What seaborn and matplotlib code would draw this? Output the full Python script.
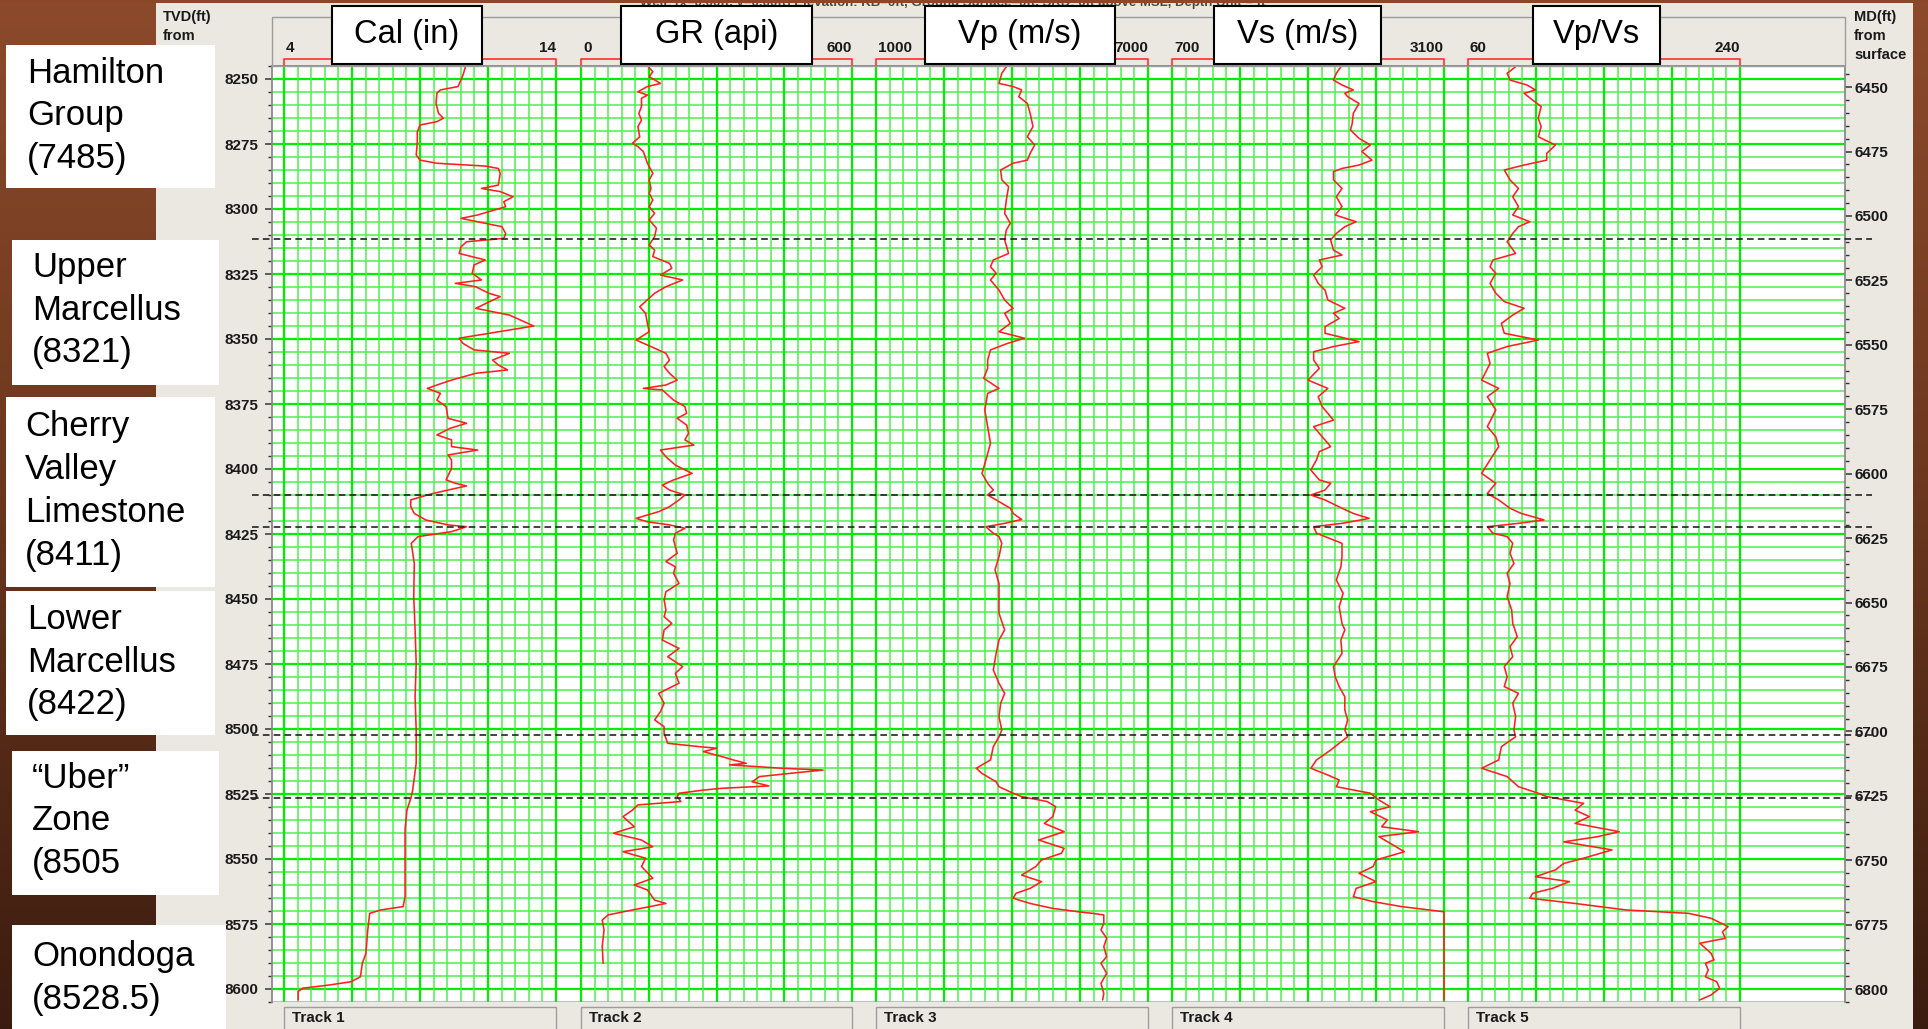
import numpy as np
import pandas as pd
import matplotlib
matplotlib.use("Agg")
import matplotlib.pyplot as plt
import matplotlib.transforms as mtransforms
from matplotlib.patches import Rectangle
from matplotlib.lines import Line2D
from matplotlib.ticker import FixedLocator
import seaborn as sns

sns.set_style("white")
plt.rcParams["font.family"] = ["Liberation Sans", "DejaVu Sans"]

# ---------------------------------------------------------------- data
TVD_TOP, TVD_BASE = 8245, 8605      # displayed TVD window (ft)
MD_SHIFT = 1803.2                   # TVD - MD

cal_log = [
    (8245.3, 10.67), (8248.5, 10.58), (8252.9, 10.40), (8254.2, 9.75), (8255.5, 9.62),
    (8259.4, 9.59), (8263.2, 9.68), (8265.1, 9.86), (8266.4, 9.62), (8267.7, 9.00),
    (8270.3, 8.90), (8274.7, 8.90), (8279.2, 8.86), (8281.2, 9.00), (8282.4, 9.62),
    (8283.5, 11.40), (8284.4, 11.88), (8286.3, 11.95), (8290.8, 11.88), (8292.1, 11.26),
    (8293.3, 11.95), (8295.3, 12.42), (8297.2, 12.08), (8299.1, 12.15), (8302.3, 11.12),
    (8303.6, 10.51), (8304.9, 11.12), (8306.8, 12.01), (8309.4, 12.15), (8311.3, 12.08),
    (8312.6, 10.71), (8314.5, 10.51), (8317.1, 10.44), (8319.6, 11.40), (8321.5, 10.99),
    (8324.7, 10.92), (8327.3, 11.26), (8328.6, 10.30), (8329.9, 11.05), (8332.4, 11.53),
    (8333.7, 11.95), (8338.2, 11.05), (8340.8, 12.29), (8345.0, 13.18), (8349.7, 10.44),
    (8351.7, 10.58), (8354.2, 10.99), (8355.5, 12.29), (8358.1, 11.67), (8360.0, 11.88),
    (8361.9, 12.22), (8363.2, 11.05), (8365.8, 10.16), (8367.7, 9.62), (8369.0, 9.27),
    (8370.9, 9.75), (8373.5, 9.62), (8376.0, 9.96), (8380.5, 10.03), (8382.4, 10.71),
    (8384.4, 10.10), (8386.9, 9.62), (8388.8, 10.16), (8391.4, 10.16), (8392.7, 11.12),
    (8394.6, 10.03), (8396.5, 10.16), (8399.7, 10.16), (8404.2, 9.96), (8405.5, 10.30),
    (8406.5, 10.71), (8408.1, 10.03), (8409.4, 9.48), (8410.6, 9.07), (8411.9, 8.66),
    (8414.5, 8.66), (8417.1, 8.79), (8419.6, 9.21), (8421.5, 10.03), (8422.2, 10.71),
    (8424.1, 10.16), (8426.0, 8.93), (8428.6, 8.68), (8436.3, 8.79), (8449.1, 8.77),
    (8461.9, 8.82), (8474.7, 8.86), (8487.6, 8.82), (8500.4, 8.86), (8513.2, 8.86),
    (8523.5, 8.73), (8526.0, 8.68), (8531.2, 8.52), (8538.8, 8.45), (8551.7, 8.45),
    (8564.5, 8.45), (8568.3, 8.38), (8569.6, 7.56), (8570.9, 7.15), (8577.3, 7.08),
    (8586.3, 7.01), (8590.1, 6.88), (8595.3, 6.81), (8597.2, 6.47), (8598.5, 5.64),
    (8599.7, 4.68), (8601.0, 4.52), (8604.2, 4.52),
]

gr_log = [
    (8245.3, 149), (8247.2, 159), (8249.1, 151), (8251.7, 176), (8252.9, 147),
    (8254.9, 126), (8256.2, 147), (8257.4, 134), (8260.6, 134), (8263.2, 128),
    (8265.8, 134), (8268.3, 126), (8272.2, 130), (8274.7, 114), (8276.0, 126),
    (8277.9, 138), (8282.4, 147), (8286.3, 159), (8288.8, 151), (8292.1, 155),
    (8294.0, 151), (8296.5, 159), (8299.1, 151), (8301.7, 163), (8304.2, 151),
    (8307.4, 167), (8310.6, 163), (8313.8, 151), (8315.8, 163), (8318.3, 159),
    (8320.9, 196), (8322.8, 201), (8325.4, 176), (8327.3, 225), (8329.9, 188),
    (8332.4, 163), (8337.6, 130), (8340.1, 143), (8344.0, 147), (8347.2, 151),
    (8350.4, 122), (8352.3, 147), (8355.5, 188), (8358.1, 196), (8360.6, 184),
    (8363.2, 196), (8365.8, 213), (8367.7, 188), (8369.0, 138), (8369.6, 180),
    (8373.5, 205), (8376.0, 230), (8378.6, 234), (8380.5, 213), (8383.1, 234),
    (8386.3, 238), (8388.8, 230), (8390.8, 250), (8392.7, 176), (8395.3, 188),
    (8398.5, 209), (8401.7, 246), (8404.2, 205), (8406.2, 180), (8408.1, 196),
    (8410.0, 230), (8411.9, 217), (8414.5, 196), (8416.4, 172), (8419.0, 122),
    (8420.3, 147), (8421.5, 196), (8422.8, 230), (8424.7, 209), (8427.3, 205),
    (8432.4, 213), (8435.6, 188), (8437.6, 209), (8440.1, 205), (8444.0, 217),
    (8447.2, 188), (8450.4, 184), (8454.2, 188), (8456.8, 184), (8459.4, 201),
    (8461.9, 184), (8465.8, 180), (8469.0, 217), (8472.2, 192), (8476.0, 225),
    (8478.6, 209), (8482.4, 217), (8486.3, 172), (8490.1, 184), (8493.3, 176),
    (8496.5, 163), (8499.1, 184), (8501.7, 184), (8505.5, 192), (8506.8, 263),
    (8507.4, 300), (8508.7, 271), (8510.6, 312), (8511.9, 337), (8513.2, 366),
    (8513.8, 329), (8515.1, 445), (8515.8, 536), (8516.8, 478), (8518.3, 395),
    (8520.3, 379), (8521.9, 416), (8522.8, 312), (8523.5, 271), (8524.7, 217),
    (8526.0, 213), (8527.9, 221), (8529.2, 126), (8531.2, 114), (8533.7, 93),
    (8537.6, 118), (8540.1, 72), (8542.7, 134), (8545.3, 159), (8547.2, 93),
    (8549.7, 143), (8552.9, 134), (8557.4, 159), (8560.0, 118), (8561.9, 147),
    (8565.8, 163), (8567.1, 188), (8569.6, 114), (8571.5, 60), (8573.5, 47),
    (8577.3, 51), (8583.7, 47), (8590.1, 49),
]

vp_log = [
    (8245.3, 3875), (8247.8, 3775), (8251.7, 3713), (8252.9, 4025), (8254.2, 4213),
    (8256.8, 4150), (8259.4, 4338), (8263.2, 4400), (8268.3, 4463), (8272.2, 4338),
    (8275.4, 4500), (8278.6, 4400), (8281.2, 4338), (8282.4, 4025), (8285.0, 3750),
    (8288.8, 3775), (8291.4, 3925), (8296.5, 3875), (8301.7, 3838), (8305.5, 3963),
    (8308.1, 3875), (8311.9, 3838), (8317.1, 3925), (8319.6, 3588), (8322.2, 3525),
    (8324.7, 3650), (8327.3, 3525), (8331.2, 3713), (8335.0, 3838), (8338.2, 4025),
    (8340.1, 3838), (8344.0, 3963), (8347.2, 3713), (8349.7, 4275), (8351.7, 3900),
    (8354.2, 3525), (8358.1, 3463), (8361.3, 3463), (8365.1, 3375), (8369.0, 3713),
    (8370.9, 3463), (8377.3, 3400), (8383.7, 3463), (8390.1, 3525), (8396.5, 3425),
    (8401.7, 3338), (8405.5, 3463), (8408.1, 3588), (8410.0, 3463), (8411.9, 3650),
    (8415.1, 3963), (8417.1, 4025), (8419.4, 4213), (8420.9, 3838), (8422.2, 3425),
    (8424.7, 3588), (8426.0, 3713), (8428.6, 3775), (8433.7, 3713), (8438.8, 3625),
    (8444.0, 3713), (8449.1, 3713), (8455.5, 3713), (8461.9, 3838), (8465.8, 3713),
    (8470.9, 3650), (8477.3, 3588), (8482.4, 3713), (8486.3, 3838), (8490.1, 3750),
    (8495.3, 3713), (8500.4, 3775), (8503.0, 3713), (8506.8, 3588), (8511.9, 3525),
    (8515.1, 3213), (8517.1, 3338), (8520.3, 3650), (8522.2, 3713), (8524.7, 4025),
    (8526.0, 4213), (8527.9, 4775), (8529.9, 4963), (8533.7, 4900), (8536.3, 4713),
    (8539.5, 5150), (8542.7, 4588), (8545.9, 5150), (8547.8, 5088), (8550.4, 4650),
    (8552.9, 4525), (8556.2, 4213), (8558.7, 4650), (8561.3, 4400), (8563.2, 4088),
    (8565.1, 4025), (8567.1, 4400), (8569.0, 4900), (8570.3, 5463), (8570.9, 5775),
    (8571.5, 6025), (8574.7, 6025), (8577.3, 5963), (8580.5, 6088), (8583.7, 6025),
    (8587.6, 6088), (8590.1, 5963), (8594.0, 6088), (8597.8, 5963), (8601.7, 6025),
    (8604.2, 6000),
]

vs_log = [
    (8245.3, 2190), (8247.8, 2150), (8250.4, 2125), (8252.3, 2200), (8254.2, 2300),
    (8255.5, 2225), (8256.8, 2250), (8259.4, 2350), (8263.2, 2300), (8267.1, 2290),
    (8269.6, 2275), (8272.8, 2350), (8275.4, 2450), (8277.9, 2375), (8281.2, 2465),
    (8283.1, 2350), (8284.4, 2200), (8285.6, 2125), (8288.8, 2125), (8292.1, 2200),
    (8295.3, 2150), (8299.1, 2200), (8302.3, 2140), (8304.9, 2325), (8306.8, 2225),
    (8309.4, 2150), (8311.9, 2100), (8315.8, 2125), (8317.7, 2200), (8319.6, 2000),
    (8322.2, 2025), (8325.4, 1950), (8328.6, 1990), (8331.2, 2050), (8335.0, 2075),
    (8338.2, 2225), (8340.1, 2125), (8342.1, 2175), (8345.3, 2050), (8347.8, 2050),
    (8351.0, 2350), (8352.9, 2125), (8354.9, 1950), (8358.1, 1950), (8361.3, 2000),
    (8365.8, 1900), (8369.0, 2075), (8372.2, 1990), (8376.0, 2025), (8381.2, 2125),
    (8383.7, 1950), (8387.6, 2025), (8391.4, 2100), (8393.3, 2000), (8396.5, 1975),
    (8400.4, 1925), (8404.2, 2000), (8405.5, 2100), (8408.1, 2050), (8410.0, 1925),
    (8411.9, 2050), (8415.1, 2200), (8417.1, 2300), (8419.0, 2440), (8420.9, 2200),
    (8422.2, 1950), (8424.7, 1975), (8426.0, 2050), (8428.6, 2200), (8433.7, 2200),
    (8437.6, 2190), (8442.7, 2150), (8447.8, 2210), (8453.0, 2175), (8459.4, 2200),
    (8461.9, 2225), (8465.8, 2190), (8470.9, 2200), (8476.0, 2125), (8479.9, 2140),
    (8483.7, 2175), (8487.6, 2225), (8492.7, 2225), (8496.5, 2250), (8500.4, 2225),
    (8503.0, 2250), (8505.5, 2175), (8508.1, 2100), (8511.9, 1975), (8515.1, 1925),
    (8517.7, 2075), (8519.6, 2175), (8522.2, 2150), (8524.7, 2450), (8527.3, 2525),
    (8529.9, 2625), (8531.8, 2450), (8535.0, 2600), (8537.6, 2550), (8539.5, 2875),
    (8541.4, 2525), (8544.6, 2650), (8547.2, 2750), (8550.4, 2500), (8552.9, 2475),
    (8555.5, 2350), (8558.7, 2500), (8561.3, 2325), (8564.5, 2300), (8566.4, 2475),
    (8568.3, 2725), (8570.3, 3100), (8604.2, 3100),
]

vpvs_log = [
    (8245.3, 91.5), (8247.8, 85.9), (8250.4, 87.8), (8252.3, 99.0), (8254.2, 104.6),
    (8255.5, 97.1), (8258.1, 102.8), (8260.6, 108.4), (8265.1, 106.5), (8268.3, 108.4),
    (8272.2, 106.5), (8275.4, 117.8), (8278.6, 112.1), (8281.2, 112.1), (8283.1, 97.1),
    (8285.0, 84.0), (8288.8, 87.8), (8292.1, 93.4), (8295.3, 89.6), (8299.1, 93.4),
    (8302.3, 89.6), (8304.9, 100.9), (8306.8, 93.4), (8309.4, 89.6), (8312.6, 85.9),
    (8317.1, 91.5), (8319.6, 76.5), (8322.2, 74.6), (8324.7, 78.4), (8328.6, 74.6),
    (8332.4, 78.4), (8335.6, 84.0), (8338.2, 97.1), (8340.8, 89.6), (8344.0, 82.1),
    (8347.8, 84.0), (8350.4, 106.5), (8352.9, 85.9), (8355.5, 72.8), (8359.4, 74.6),
    (8365.8, 69.0), (8369.0, 80.3), (8372.2, 72.8), (8377.3, 78.4), (8383.7, 72.8),
    (8387.6, 78.4), (8391.4, 80.3), (8396.5, 74.6), (8401.7, 69.0), (8405.5, 78.4),
    (8409.4, 72.8), (8411.9, 80.3), (8415.1, 87.8), (8417.1, 95.3), (8419.6, 110.3),
    (8420.9, 93.4), (8422.2, 72.8), (8424.7, 76.5), (8426.0, 85.9), (8428.6, 89.6),
    (8432.4, 87.8), (8436.3, 90.4), (8440.1, 85.9), (8444.0, 87.8), (8449.1, 85.9),
    (8454.2, 88.9), (8459.4, 89.6), (8464.5, 92.6), (8468.3, 87.8), (8472.2, 89.6),
    (8476.0, 84.0), (8479.9, 85.9), (8483.7, 84.0), (8486.3, 93.4), (8490.1, 89.6),
    (8495.3, 91.5), (8500.4, 90.4), (8503.0, 91.5), (8506.8, 82.1), (8511.9, 80.3),
    (8515.1, 69.0), (8518.3, 85.9), (8522.2, 93.4), (8524.7, 106.5), (8526.0, 112.1),
    (8528.6, 136.5), (8531.2, 130.9), (8533.7, 140.3), (8536.3, 130.9), (8539.5, 160.1),
    (8541.4, 145.9), (8543.4, 123.4), (8546.5, 155.3), (8549.7, 136.5), (8551.7, 123.4),
    (8554.2, 117.8), (8556.8, 104.6), (8558.7, 127.1), (8561.3, 115.9), (8563.2, 102.8),
    (8565.1, 100.9), (8567.1, 130.9), (8569.6, 164.6), (8570.9, 205.9), (8572.8, 220.9),
    (8576.0, 232.1), (8578.0, 228.4), (8580.5, 230.3), (8582.4, 213.4), (8586.3, 220.9),
    (8588.8, 222.8), (8590.1, 217.1), (8592.7, 219.0), (8595.3, 217.1), (8597.2, 224.6),
    (8599.7, 226.5), (8602.3, 220.9), (8604.2, 213.4),
]

track_logs = [cal_log, gr_log, vp_log, vs_log, vpvs_log]
track_titles = ["Cal (in)", "GR (api)", "Vp (m/s)", "Vs (m/s)", "Vp/Vs"]
track_names = ["Track 1", "Track 2", "Track 3", "Track 4", "Track 5"]
track_limits = [(4, 14), (0, 600), (1000, 7000), (700, 3100), (60, 240)]
track_limit_labels = [("4", "14"), ("0", "600"), ("1000", "7000"), ("700", "3100"), ("60", "240")]

tvd_ticks = list(range(8250, 8601, 25))
md_ticks = list(range(6450, 6801, 25))

formation_labels = [
    "Hamilton\nGroup\n(7485)",
    "Upper\nMarcellus\n(8321)",
    "Cherry\nValley\nLimestone\n(8411)",
    "Lower\nMarcellus\n(8422)",
    "\u201cUber\u201d\nZone\n(8505",
    "Onondoga\n(8528.5)",
]
formation_tops = [8311.5, 8410.0, 8422.2, 8502.4, 8526.7]

# ---------------------------------------------------------------- layout (pixels)
W, H, DPI = 1928, 1029, 100
PLOT_L, PLOT_R, PLOT_T, PLOT_B = 272, 1845, 66, 1002
track_px = [(284, 556), (581, 852), (876, 1148), (1172, 1444), (1468, 1740)]
title_px = [(332, 482), (621, 812), (925, 1115), (1214, 1381), (1533, 1660)]
label_boxes = [(6, 45, 215, 188), (12, 240, 219, 385), (6, 397, 215, 587),
               (6, 591, 215, 735), (12, 751, 219, 895), (12, 925, 226, 1035)]
label_text_xy = [(27, 116), (32, 310), (25, 491), (27, 662), (32, 821), (32, 978)]

MAJOR_GREEN, MINOR_GREEN, CURVE_RED = "#00ee00", "#4cf04c", "#ff1f1f"
PANEL = "#ebe8e1"


def frac_rect(x0, y0, x1, y1):
    return [x0 / W, 1 - y1 / H, (x1 - x0) / W, (y1 - y0) / H]


def fx(x):
    return x / W


def fy(y):
    return 1 - y / H


fig = plt.figure(figsize=(W / DPI, H / DPI), dpi=DPI)
fig.patch.set_facecolor(PANEL)


def brown_backdrop(rect):
    a = fig.add_axes(rect, zorder=-10)
    t = np.linspace(0, 1, 256)
    stops = [0.0, 0.45, 1.0]
    cols = np.array([[0.55, 0.29, 0.17], [0.43, 0.22, 0.12], [0.23, 0.11, 0.06]])
    img = np.stack([np.interp(t, stops, cols[:, k]) for k in range(3)], axis=-1)[:, None, :]
    a.imshow(img, aspect="auto", extent=(0, 1, 1, 0))
    a.set_axis_off()


brown_backdrop(frac_rect(0, 0, 156, H))
brown_backdrop(frac_rect(1913, 0, W, H))

# ---------------------------------------------------------------- depth frame
ax = fig.add_axes(frac_rect(PLOT_L, PLOT_T, PLOT_R, PLOT_B))
ax.set_facecolor("white")
ax.set_xlim(0, 1)
ax.set_ylim(TVD_BASE, TVD_TOP)
ax.set_xticks([])
ax.set_yticks(tvd_ticks, [str(v) for v in tvd_ticks], fontsize=11, fontweight="bold", color="#1a1a1a")
ax.set_yticks(np.arange(TVD_TOP, TVD_BASE + 1, 5), minor=True)
ax.grid(True, axis="y", which="major", color=MAJOR_GREEN, lw=1.6)
ax.grid(True, axis="y", which="minor", color=MINOR_GREEN, lw=1.1)
ax.tick_params(axis="y", which="major", length=5, width=1.1, color="#333333", pad=4.5)
ax.tick_params(axis="y", which="minor", length=3, width=1.0, color="#333333")
for side in ["left", "top", "right"]:
    ax.spines[side].set_color("#8a8a8a")
    ax.spines[side].set_linewidth(1.3)
ax.spines["bottom"].set_visible(False)
ax.spines["right"].set_visible(False)

axr = ax.twinx()
axr.set_ylim(TVD_BASE - MD_SHIFT, TVD_TOP - MD_SHIFT)
axr.set_yticks(md_ticks, [str(v) for v in md_ticks], fontsize=11, fontweight="bold", color="#1a1a1a")
axr.set_yticks(np.arange(6445, 6806, 5), minor=True)
axr.tick_params(axis="y", which="major", length=5, width=1.1, color="#333333", pad=1.5)
axr.tick_params(axis="y", which="minor", length=3, width=1.0, color="#333333")
for side in ["left", "top", "bottom"]:
    axr.spines[side].set_visible(False)
axr.spines["right"].set_color("#8a8a8a")
axr.spines["right"].set_linewidth(1.3)

# ---------------------------------------------------------------- tracks
EDGE = 3
for i, ((x0, x1), (lo, hi), log) in enumerate(zip(track_px, track_limits, track_logs)):
    per_px = (hi - lo) / (x1 - x0)
    t = fig.add_axes(frac_rect(x0 - EDGE, PLOT_T, x1 + EDGE, PLOT_B))
    t.patch.set_alpha(0)
    df = pd.DataFrame(log, columns=["depth", "value"])
    sns.lineplot(data=df, x="value", y="depth", orient="y", sort=False, estimator=None,
                 color=CURVE_RED, linewidth=1.15, ax=t, legend=False, zorder=5)
    t.set_xlim(lo - EDGE * per_px, hi + EDGE * per_px)
    t.set_ylim(TVD_BASE, TVD_TOP)
    t.xaxis.set_major_locator(FixedLocator(np.linspace(lo, hi, 5)))
    t.xaxis.set_minor_locator(FixedLocator(np.linspace(lo, hi, 21)))
    t.grid(True, axis="x", which="major", color=MAJOR_GREEN, lw=1.6)
    t.grid(True, axis="x", which="minor", color=MINOR_GREEN, lw=1.1)
    t.grid(False, axis="y", which="both")
    t.set_axisbelow(True)
    t.tick_params(which="both", bottom=False, top=False, left=False, right=False,
                  labelbottom=False, labelleft=False)
    for s in t.spines.values():
        s.set_visible(False)
    t.set_xlabel("")
    t.set_ylabel("")

    # scale bracket in the header
    tr = mtransforms.blended_transform_factory(t.transData, fig.transFigure)
    t.plot([lo, lo, hi, hi], [fy(PLOT_T), fy(59), fy(59), fy(PLOT_T)], transform=tr,
           color="#ff3030", lw=1.2, clip_on=False)
    left_lbl, right_lbl = track_limit_labels[i]
    t.text(lo + 2 * per_px, fy(48), left_lbl, transform=tr, ha="left", va="center",
           fontsize=11, fontweight="bold", color="#1a1a1a")
    t.text(hi, fy(48), right_lbl, transform=tr, ha="right", va="center",
           fontsize=11, fontweight="bold", color="#1a1a1a")

# formation tops (dashed), running past both depth axes
dash_tr = mtransforms.blended_transform_factory(fig.transFigure, ax.transData)
for d in formation_tops:
    fig.add_artist(Line2D([fx(252), fx(1872)], [d, d], transform=dash_tr,
                          color="#222222", lw=1.2, ls=(0, (4, 2.5)), zorder=2))

# ---------------------------------------------------------------- header furniture
fig.text(fx(640), fy(3), "Well: (x=0.00ft, y=0.00ft) Elevation: KB=0ft, Ground Surface=0ft, "
         "SRD: 0ft above MSL, Depth Unit = ft", fontsize=9.5, fontweight="bold",
         color="#4a4a4a", ha="left", va="center", zorder=0.5)
fig.add_artist(Rectangle((0, fy(3)), 1, 3 / H, transform=fig.transFigure,
                         facecolor="#8a4829", edgecolor="none", zorder=1))

fig.add_artist(Rectangle((fx(PLOT_L), fy(PLOT_T)), (PLOT_R - PLOT_L) / W, (PLOT_T - 17) / H,
                         transform=fig.transFigure, fill=False, edgecolor="#9c9c9c",
                         lw=1.0, zorder=1))

for (x0, x1), title in zip(title_px, track_titles):
    fig.add_artist(Rectangle((fx(x0), fy(64)), (x1 - x0) / W, 58 / H, transform=fig.transFigure,
                             facecolor="white", edgecolor="black", lw=1.5, zorder=3))
    fig.text(fx((x0 + x1) / 2), fy(35), title, fontsize=23.5, ha="center", va="center",
             color="black", zorder=4)

fig.text(fx(163), fy(10), "TVD(ft)\nfrom", fontsize=10.5, fontweight="bold", color="#1a1a1a",
         ha="left", va="top", linespacing=1.45)
fig.text(fx(1854), fy(10), "MD(ft)\nfrom\nsurface", fontsize=10.5, fontweight="bold",
         color="#1a1a1a", ha="left", va="top", linespacing=1.45)

# track buttons along the bottom
for (x0, x1), name in zip(track_px, track_names):
    fig.add_artist(Rectangle((fx(x0), fy(1034)), (x1 - x0) / W, 27 / H, transform=fig.transFigure,
                             facecolor=PANEL, edgecolor="#9c9c9c", lw=1.0, zorder=2))
    fig.text(fx(x0 + 8), fy(1018), name, fontsize=11, fontweight="bold", color="#1a1a1a",
             ha="left", va="center", zorder=3)

# formation name cards on the left
for (x0, y0, x1, y1), (tx, ty), label in zip(label_boxes, label_text_xy, formation_labels):
    fig.add_artist(Rectangle((fx(x0), fy(y1)), (x1 - x0) / W, (y1 - y0) / H,
                             transform=fig.transFigure, facecolor="white", edgecolor="none",
                             zorder=3))
    fig.text(fx(tx), fy(ty), label, fontsize=25, ha="left", va="center", color="black",
             linespacing=1.38, zorder=4)

fig.savefig("out.png", dpi=DPI, facecolor=fig.get_facecolor())
